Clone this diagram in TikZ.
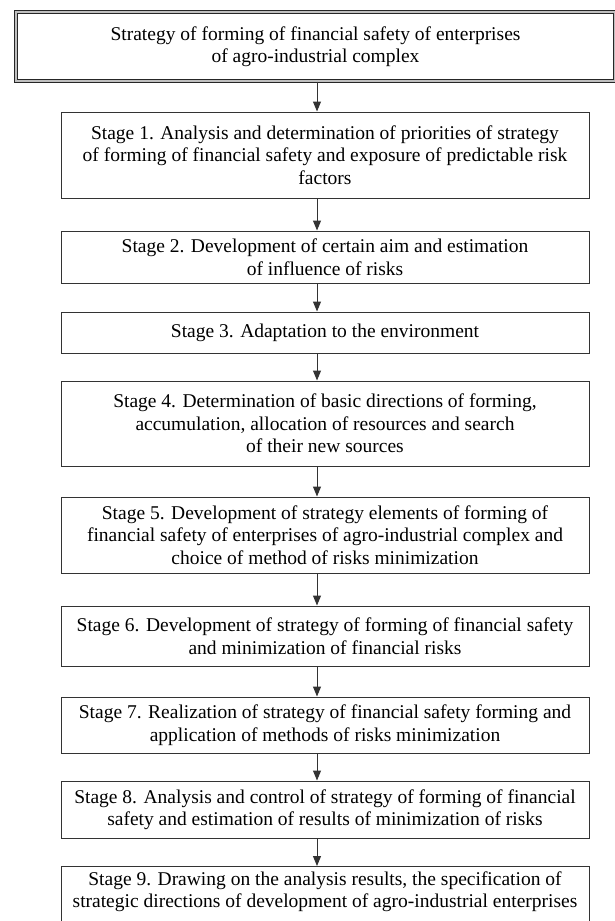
\documentclass[tikz,border=0pt]{standalone}
\usepackage{fontspec}
\setmainfont{Liberation Serif}
\usetikzlibrary{arrows.meta}
\begin{document}
\begin{tikzpicture}[x=1pt,y=1pt,
  stagebox/.style={draw=black!80, line width=1pt, minimum width=528pt,
    inner sep=0pt, align=center, font=\fontsize{19.5}{22.5}\selectfont},
  titlebox/.style={draw=black!85, line width=1.3pt, double=black!25,
    double distance=2pt, minimum width=599pt, inner sep=0pt, align=center,
    font=\fontsize{19.5}{22.5}\selectfont},
  flow/.style={draw=black!80, line width=1pt,
    -{Triangle[width=8pt,length=10pt]}}
]
\useasboundingbox (0,0) rectangle (614,-921);

% title box with a double frame
\node[titlebox, minimum height=69pt] (top) at (315.5,-46.5)
  {Strategy of forming of financial safety of enterprises\\of agro-industrial complex};

% stages
\node[stagebox, minimum height=86pt] (s1) at (325,-155)
  {Stage 1. Analysis and determination of priorities of strategy\\
   of forming of financial safety and exposure of predictable risk\\factors};
\node[stagebox, minimum height=52pt] (s2) at (325,-257)
  {Stage 2. Development of certain aim and estimation\\of influence of risks};
\node[stagebox, minimum height=41pt] (s3) at (325,-332.5)
  {Stage 3. Adaptation to the environment};
\node[stagebox, minimum height=85pt] (s4) at (325,-423.5)
  {Stage 4. Determination of basic directions of forming,\\
   accumulation, allocation of resources and search\\of their new sources};
\node[stagebox, minimum height=76pt] (s5) at (325,-535)
  {Stage 5. Development of strategy elements of forming of\\
   financial safety of enterprises of agro-industrial complex and\\
   choice of method of risks minimization};
\node[stagebox, minimum height=60pt] (s6) at (325,-636)
  {Stage 6. Development of strategy of forming of financial safety\\
   and minimization of financial risks};
\node[stagebox, minimum height=56pt] (s7) at (325,-725)
  {Stage 7. Realization of strategy of financial safety forming and\\
   application of methods of risks minimization};
\node[stagebox, minimum height=57pt] (s8) at (325,-809.5)
  {Stage 8. Analysis and control of strategy of forming of financial\\
   safety and estimation of results of minimization of risks};
\node[stagebox, anchor=north, inner ysep=5pt] (s9) at (325,-866)
  {Stage 9. Drawing on the analysis results, the specification of\\
   strategic directions of development of agro-industrial enterprises\rule[-30pt]{0pt}{0pt}};

% arrows down the column
\coordinate (ax) at (317,0);
\draw[flow] (top.south -| ax) -- (s1.north -| ax);
\draw[flow] (s1.south -| ax) -- (s2.north -| ax);
\draw[flow] (s2.south -| ax) -- (s3.north -| ax);
\draw[flow] (s3.south -| ax) -- (s4.north -| ax);
\draw[flow] (s4.south -| ax) -- (s5.north -| ax);
\draw[flow] (s5.south -| ax) -- (s6.north -| ax);
\draw[flow] (s6.south -| ax) -- (s7.north -| ax);
\draw[flow] (s7.south -| ax) -- (s8.north -| ax);
\draw[flow] (s8.south -| ax) -- (s9.north -| ax);
\end{tikzpicture}
\end{document}
